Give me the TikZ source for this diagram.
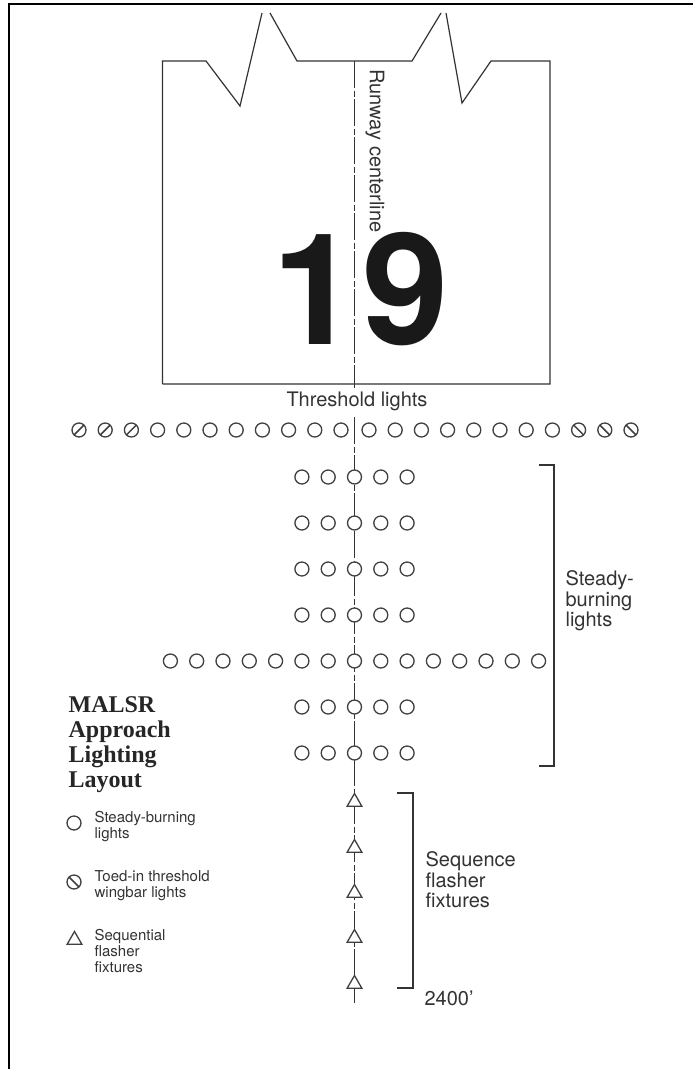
\documentclass[tikz,border=0pt]{standalone}
\usepackage{fontspec}
\setmainfont{TeX Gyre Heros}
\newfontfamily\serifbold{Liberation Serif}[BoldFont=* Bold]
\usetikzlibrary{positioning,shapes.geometric}

\begin{document}
\begin{tikzpicture}[
    x=1pt, y=-1pt,
    line width=1.2pt,
    ink/.style={draw=black!80},
    light/.style={
        circle,
        draw=black!75,
        fill=white,
        line width=1.3pt,
        inner sep=0pt,
        minimum size=14pt
    },
    toed left/.style={
        light,
        path picture={\draw[black!75,line width=1.5pt] (path picture bounding box.south west) -- (path picture bounding box.north east);}
    },
    toed right/.style={
        light,
        path picture={\draw[black!75,line width=1.5pt] (path picture bounding box.north west) -- (path picture bounding box.south east);}
    },
    flasher/.style={
        regular polygon,
        regular polygon sides=3,
        draw=black!75,
        fill=white,
        line width=1.3pt,
        inner sep=0pt,
        minimum size=17pt
    },
    centerline/.style={
        draw=black!80,
        dash pattern=on 27pt off 2.5pt on 6pt off 2.5pt
    },
    label text/.style={
        font=\fontsize{20}{20.5}\selectfont,
        text=black!80,
        align=left,
        anchor=north west,
        inner sep=0pt
    },
    key text/.style={
        font=\fontsize{15}{16}\selectfont,
        text=black!80,
        align=left,
        anchor=west,
        inner sep=0pt
    }
]
\useasboundingbox (0,0) rectangle (693,1069);

% Page frame
\coordinate (frame tl) at (8.5,3.5);
\draw[black,line width=2pt] (693,3.5) -- (frame tl) -- (8.5,1069);

% Runway outline
\coordinate (rw tl) at (162.5,61);
\coordinate (rw tr) at (550,61);
\coordinate (rw bl) at (162.5,384);
\coordinate (rw br) at (550,384);
\draw[ink,line join=miter] (rw bl) -- (rw tl) -- (206,61) -- (240,106) -- (262,13);
\draw[ink,line join=miter] (270,13) -- (297,61) -- (412,61) -- (441,13);
\draw[ink,line join=miter] (446,13) -- (462,103) -- (491,61) -- (rw tr) -- (rw br) -- (rw bl);

% Centerline
\coordinate (cl top) at (354.5,61);
\coordinate (cl mid) at (354.5,388);
\coordinate (cl low) at (354.5,417);
\coordinate (cl end) at (354.5,1003);
\draw[centerline] (cl top) -- (cl mid);
\draw[centerline] (cl low) -- (cl end);

% Runway labels
\node[font=\fontsize{155}{155}\selectfont\bfseries,text=black!90,inner sep=0pt] (rwone) at (316,289.5) {1};
\node[font=\fontsize{155}{155}\selectfont\bfseries,text=black!90,inner sep=0pt] (rwnine) at (406,289.5) {9};
\node[font=\fontsize{20}{20}\selectfont,text=black!80,rotate=-90,inner sep=0pt] (rwlabel) at (375,151) {Runway centerline};
\node[font=\fontsize{20}{20}\selectfont,text=black!80,inner sep=0pt] (thlabel) at (357,401) {Threshold lights};

% Threshold lights
\foreach \i in {0,1,2} {
    \node[toed left] (thl\i) at (79+26.2*\i,430) {};
    \node[toed right] (thr\i) at (631-26.2*\i,430) {};
}
\foreach \i in {3,...,10} {
    \node[light] (thl\i) at (79+26.2*\i,430) {};
    \node[light] (thr\i) at (631-26.2*\i,430) {};
}

% Approach bars
\foreach \y [count=\r] in {477,523,569,615,707,753} {
    \foreach \i in {-2,...,2} {
        \node[light] (bar\r\i) at (354.5+26.3*\i,\y) {};
    }
}

% Crossbar
\foreach \i in {-7,...,7} {
    \node[light] (cross\i) at (354.5+26.3*\i,661) {};
}

% Flashers
\foreach \y [count=\r] in {802,848,893,938,984} {
    \node[flasher] (fl\r) at (354.5,\y) {};
}

% Brackets
\coordinate (sb top) at (539,465);
\coordinate (sb bot) at (539,766);
\draw[ink] (sb top) -- (554,465) -- (554,766) -- (sb bot);
\coordinate (fb top) at (397,793);
\coordinate (fb bot) at (397,988);
\draw[ink] (fb top) -- (413,793) -- (413,988) -- (fb bot);

\node[label text] (steadylabel) at (565,570) {Steady-\\burning\\lights};
\node[label text] (seqlabel) at (425,851) {Sequence\\flasher\\fixtures};
\node[label text] (distlabel) at (424,990.5) {2400'};

% Title
\node[font=\fontsize{24}{25.3}\selectfont\serifbold\bfseries,text=black!85,align=left,anchor=north west,inner sep=0pt] (title) at (68,695.5) {MALSR\\Approach\\Lighting\\Layout};

% Legend
\node[light] (keyA) at (74,823) {};
\node[key text] (keyAtext) at (94,827) {Steady-burning\\lights};
\node[toed right] (keyB) at (74,882) {};
\node[key text] (keyBtext) at (94,886) {Toed-in threshold\\wingbar lights};
\node[flasher] (keyC) at (74.5,940) {};
\node[key text] (keyCtext) at (94,951) {Sequential\\flasher\\fixtures};

\end{tikzpicture}
\end{document}
